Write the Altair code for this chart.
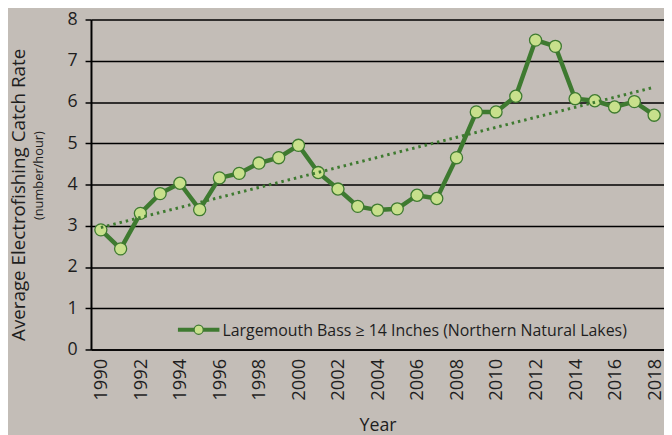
import altair as alt
import pandas as pd

years = list(range(1990, 2019))
catch_rate = [2.90, 2.44, 3.30, 3.78, 4.03, 3.39, 4.16, 4.27, 4.52, 4.65,
              4.95, 4.29, 3.89, 3.47, 3.38, 3.41, 3.74, 3.66, 4.65, 5.76,
              5.76, 6.14, 7.50, 7.35, 6.08, 6.03, 5.88, 6.01, 5.68]
x_ticks = list(range(1990, 2019, 2))
y_ticks = list(range(0, 9))
series_label = "Largemouth Bass \u2265 14 Inches (Northern Natural Lakes)"
y_title = "Average Electrofishing Catch Rate"
y_subtitle = "(number/hour)"
x_title = "Year"

df = pd.DataFrame({"Year": years, "Rate": catch_rate})

FONT = "Open Sans"
BG = "#c3bdb7"
DARK = "#3e7a30"
LIGHT = "#c8e08c"
INK = "#1e1e1e"

x_enc = alt.X(
    "Year:Q",
    scale=alt.Scale(domain=[1989.5, 2018.5], nice=False, zero=False),
    axis=alt.Axis(values=x_ticks, format="d", labelAngle=-90, labelAlign="right",
                  labelBaseline="middle", labelFontSize=18.5, labelColor=INK,
                  labelPadding=9, labelFont=FONT, ticks=False, grid=False,
                  domain=True, domainColor="black", domainWidth=1.5,
                  title=x_title, titleFont=FONT, titleFontSize=18,
                  titleFontWeight="normal", titleColor=INK,
                  titleX=290, titleY=82, titleBaseline="alphabetic"),
)
y_enc = alt.Y(
    "Rate:Q",
    scale=alt.Scale(domain=[0, 8], nice=False),
    axis=alt.Axis(values=y_ticks, labelFontSize=18, labelColor=INK, labelFont=FONT,
                  labelPadding=8, tickSize=6, tickColor="black", tickWidth=1.5,
                  domainColor="black", domainWidth=2, grid=True, gridColor="black",
                  gridWidth=1.5, gridOpacity=1,
                  title=y_title, titleFont=FONT, titleFontSize=19,
                  titleFontWeight="normal", titleColor=INK,
                  titleX=-67, titleY=177, titleAngle=-90, titleAlign="center",
                  titleBaseline="alphabetic"),
)

base = alt.Chart(df)

line = base.mark_line(color=DARK, strokeWidth=4.5).encode(x=x_enc, y=y_enc)
points = base.mark_point(filled=True, fill=LIGHT, stroke=DARK, strokeWidth=1.3,
                         size=150, opacity=1).encode(x="Year:Q", y="Rate:Q")
trend = base.transform_regression("Year", "Rate", extent=[1990, 2018]).mark_line(
    color=DARK, strokeWidth=3, strokeDash=[2.5, 4]).encode(x="Year:Q", y="Rate:Q")

leg_df = pd.DataFrame({"label": [series_label], "sub": [y_subtitle]})
leg = alt.Chart(leg_df)
leg_rule = leg.mark_rule(color=DARK, strokeWidth=4).encode(
    x=alt.value(88), x2=alt.value(130), y=alt.value(314))
leg_pt = leg.mark_point(filled=True, fill=LIGHT, stroke=DARK, strokeWidth=1.2,
                        size=85, opacity=1).encode(x=alt.value(109), y=alt.value(314))
leg_txt = leg.mark_text(align="left", baseline="middle", font=FONT, fontSize=16.1,
                        color=INK).encode(x=alt.value(133), y=alt.value(315),
                                          text="label:N")
sub_txt = leg.mark_text(align="center", baseline="alphabetic", font=FONT, fontSize=13,
                        color=INK, angle=270).encode(x=alt.value(-49), y=alt.value(158),
                                                     text="sub:N")

chart = alt.layer(line, points, trend, leg_rule, leg_pt, leg_txt, sub_txt).properties(
    width=580, height=334, background=BG,
    padding={"left": 84, "top": 9, "right": 0, "bottom": 92},
    autosize=alt.AutoSizeParams(type="none"),
).configure_view(stroke=None)

chart.save("out.html", embed_options={"renderer": "svg", "actions": False})
